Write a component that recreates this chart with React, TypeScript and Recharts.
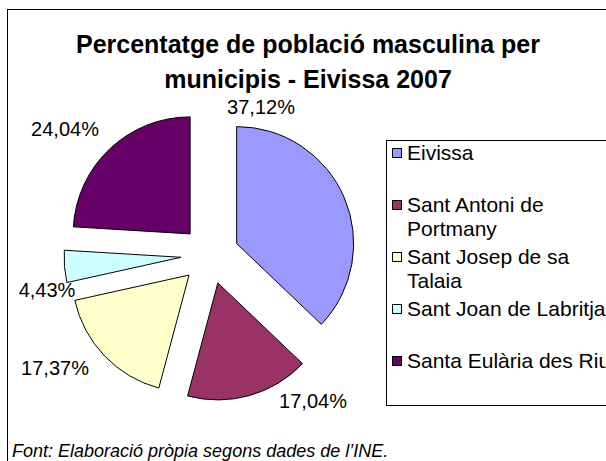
import { Legend, Pie, PieChart, Sector } from "recharts";

const municipis = [
  "Eivissa",
  "Sant Antoni de Portmany",
  "Sant Josep de sa Talaia",
  "Sant Joan de Labritja",
  "Santa Eulària des Riu",
];
const percentatges = [37.12, 17.04, 17.37, 4.43, 24.04];
const colors = ["#9999ff", "#993366", "#ffffcc", "#ccffff", "#660066"];

const data = municipis.map((name, i) => ({ name, value: percentatges[i], fill: colors[i] }));

const FONT = '"Liberation Sans", Arial, sans-serif';
const RADIAN = Math.PI / 180;
const EXPLODE = 29;

// label spots relative to the pie centre (Excel moved them by hand)
const labelSpots = [
  [51, -148],
  [103, 146],
  [-155, 113],
  [-163, 35],
  [-145, -126],
];

function formatPct(value: number): string {
  return `${value.toFixed(2).replace(".", ",")}%`;
}

function ExplodedSlice(props: any) {
  const { cx, cy, midAngle } = props;
  const dx = EXPLODE * Math.cos(-midAngle * RADIAN);
  const dy = EXPLODE * Math.sin(-midAngle * RADIAN);
  return <Sector {...props} cx={cx + dx} cy={cy + dy} />;
}

function renderLabel(props: any) {
  const { cx, cy, index, value } = props;
  const [ox, oy] = labelSpots[index];
  return (
    <text
      x={cx + ox}
      y={cy + oy}
      textAnchor="middle"
      dominantBaseline="central"
      fontFamily={FONT}
      fontSize={20}
      fill="#000"
    >
      {formatPct(value)}
    </text>
  );
}

function renderLegend(props: any) {
  // keep the data order, not the sorted one
  const payload = [...(props.payload ?? [])].sort(
    (a: any, b: any) => municipis.indexOf(a.value) - municipis.indexOf(b.value),
  );
  return (
    <div style={{ fontFamily: FONT, fontSize: 21, lineHeight: "24px", color: "#000", paddingTop: 1 }}>
      {payload.map((entry: any) => (
        <div key={entry.value} style={{ display: "flex", height: 52, paddingLeft: 6 }}>
          <div
            style={{
              width: 8,
              height: 8,
              marginTop: 7,
              border: "1px solid #000",
              background: entry.color ?? colors[municipis.indexOf(entry.value)],
              flex: "none",
            }}
          />
          <div style={{ marginLeft: 5, width: 212 }}>{entry.value}</div>
        </div>
      ))}
    </div>
  );
}

export default function App() {
  return (
    <div
      style={{
        position: "fixed",
        left: 0,
        top: 0,
        width: 606,
        height: 461,
        overflow: "hidden",
        background: "#fff",
        fontFamily: FONT,
      }}
    >
      <div
        style={{
          position: "absolute",
          left: 7,
          top: 9,
          width: 700,
          height: 500,
          border: "1px solid #000",
        }}
      />
      <div
        style={{
          position: "absolute",
          left: 0,
          top: 27,
          width: 616,
          textAlign: "center",
          fontSize: 25,
          fontWeight: "bold",
          lineHeight: "35px",
        }}
      >
        Percentatge de població masculina per
        <br />
        municipis - Eivissa 2007
      </div>
      <div
        style={{
          position: "absolute",
          left: 386,
          top: 140,
          width: 300,
          height: 264,
          border: "1px solid #000",
        }}
      />
      <PieChart
        width={606}
        height={461}
        margin={{ top: 0, right: 0, bottom: 0, left: 0 }}
        style={{ position: "absolute", left: 0, top: 0 }}
      >
        <Pie
          data={data}
          dataKey="value"
          nameKey="name"
          cx={210}
          cy={255}
          outerRadius={117}
          startAngle={90}
          endAngle={-270}
          stroke="#000"
          strokeWidth={1}
          shape={ExplodedSlice}
          activeShape={ExplodedSlice}
          inactiveShape={ExplodedSlice}
          label={renderLabel}
          labelLine={false}
          isAnimationActive={false}
        />
        <Legend
          layout="vertical"
          align="right"
          verticalAlign="middle"
          content={renderLegend}
          wrapperStyle={{ position: "absolute", left: 386, top: 140, width: 300, height: 265 }}
        />
      </PieChart>
      <div
        style={{
          position: "absolute",
          left: 12,
          top: 441,
          fontSize: 18,
          fontStyle: "italic",
          lineHeight: "20px",
          whiteSpace: "nowrap",
        }}
      >
        Font: Elaboració pròpia segons dades de l’INE.
      </div>
    </div>
  );
}
